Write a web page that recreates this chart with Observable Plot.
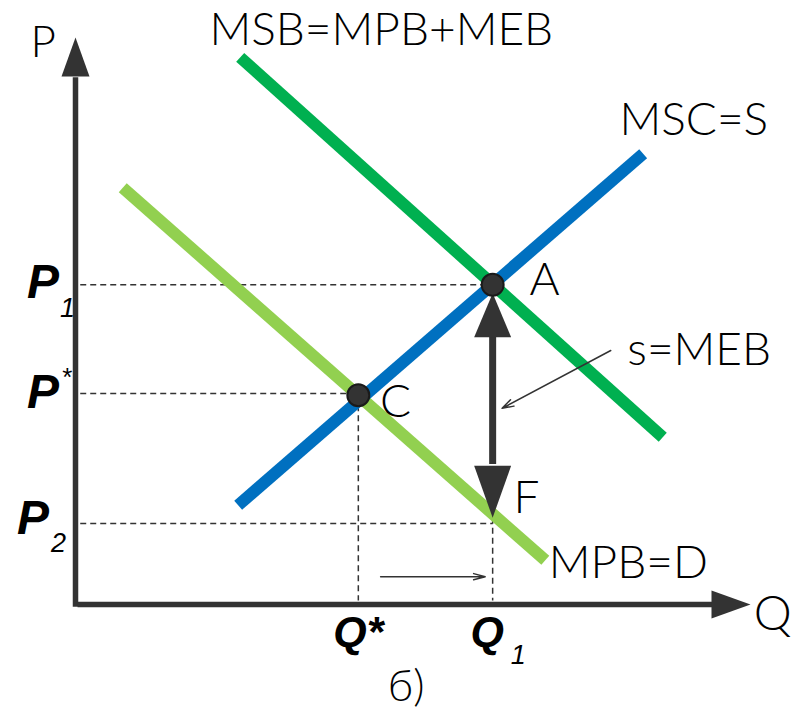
<!DOCTYPE html>
<html>
<head>
<meta charset="utf-8">
<script src="https://cdn.jsdelivr.net/npm/d3@7"></script>
<script src="https://cdn.jsdelivr.net/npm/@observablehq/plot@0.6"></script>
<style>
  html, body { margin: 0; padding: 0; background: #fff; }
</style>
</head>
<body>
<div id="chart"></div>
<script>
// ---- data (abstract units: Q and P from 0 to 100) ----
const msbLine = [[24.4, 96.5], [87.0, 29.5]];   // MSB = MPB + MEB
const mscLine = [[24.1, 17.5], [84.1, 79.5]];   // MSC = S
const mpbLine = [[7.0, 73.5], [69.6, 7.8]];     // MPB = D

const pointNames = ["A", "C"];
const pointQ = [61.8, 41.9];
const pointP = [56.4, 36.9];

const priceLevels = [56.4, 37.2, 14.3];          // P1, P*, P2
const priceEnds = [61.8, 41.9, 61.8];             // where the dashed line stops
const quantityLevels = [41.9, 61.8];              // Q*, Q1
const quantityTops = [36.9, 15.3];                // where the dashed line starts

const meb = { q: 61.8, top: 54.9, bottom: 15.3 }; // vertical gap A-F

const curveLabels = ["MSB=MPB+MEB", "MSC=S", "MPB=D", "s=MEB"];
const curveLabelQ = [45.3, 91.6, 81.9, 92.4];
const curveLabelP = [101.2, 85.4, 7.2, 44.8];

const green = "#00b050", blue = "#0070c0", lightGreen = "#92d050", ink = "#333333";

// ---- helpers ----
const line2 = (pts) => pts.map(([q, p]) => ({ q, p }));
function head(dir, w, L) {
  return {
    draw(ctx) {
      ctx.moveTo(0, 0);
      if (dir === "up") { ctx.lineTo(-w / 2, L); ctx.lineTo(w / 2, L); }
      else if (dir === "down") { ctx.lineTo(-w / 2, -L); ctx.lineTo(w / 2, -L); }
      else { ctx.lineTo(-L, -w / 2); ctx.lineTo(-L, w / 2); }
      ctx.closePath();
    }
  };
}

const geo = "Lato, 'Open Sans', sans-serif";
const ari = "'Liberation Sans', Arial, sans-serif";

const chart = Plot.plot({
  width: 794,
  height: 717,
  marginLeft: 75,
  marginRight: 44,
  marginTop: 37,
  marginBottom: 113,
  x: { domain: [0, 100], axis: null },
  y: { domain: [0, 100], axis: null },
  style: { background: "#fff", overflow: "visible" },
  marks: [
    // dashed guide lines
    Plot.link(priceLevels, { x1: 0.7, x2: (d, i) => priceEnds[i], y1: d => d, y2: d => d,
      stroke: ink, strokeWidth: 1.5, strokeDasharray: "6,4" }),
    Plot.link(quantityLevels, { x1: d => d, x2: d => d, y1: (d, i) => quantityTops[i], y2: 0.7,
      stroke: ink, strokeWidth: 1.5, strokeDasharray: "6,4" }),
    // curves
    Plot.line(line2(mpbLine), { x: "q", y: "p", stroke: lightGreen, strokeWidth: 12, strokeLinecap: "butt" }),
    Plot.line(line2(msbLine), { x: "q", y: "p", stroke: green, strokeWidth: 12, strokeLinecap: "butt" }),
    Plot.line(line2(mscLine), { x: "q", y: "p", stroke: blue, strokeWidth: 12, strokeLinecap: "butt" }),
    // axes
    Plot.line([{ q: 0, p: -0.4 }, { q: 0, p: 93.0 }], { x: "q", y: "p", stroke: ink, strokeWidth: 5.5, strokeLinecap: "butt" }),
    Plot.line([{ q: 0.3, p: 0 }, { q: 94.5, p: 0 }], { x: "q", y: "p", stroke: ink, strokeWidth: 5.5, strokeLinecap: "butt" }),
    Plot.dot([{ q: 0, p: 100 }], { x: "q", y: "p", r: 1, symbol: head("up", 28, 39), fill: ink, stroke: "none" }),
    Plot.dot([{ q: 100, p: 0 }], { x: "q", y: "p", r: 1, symbol: head("right", 28, 39), fill: ink, stroke: "none" }),
    // MEB double arrow
    Plot.line([{ q: meb.q, p: 47.5 }, { q: meb.q, p: 24.8 }], { x: "q", y: "p", stroke: ink, strokeWidth: 7, strokeLinecap: "butt" }),
    Plot.dot([{ q: meb.q, p: meb.top }], { x: "q", y: "p", r: 1, symbol: head("up", 37, 44), fill: ink, stroke: "none" }),
    Plot.dot([{ q: meb.q, p: meb.bottom }], { x: "q", y: "p", r: 1, symbol: head("down", 37, 52), fill: ink, stroke: "none" }),
    // thin pointer arrows
    Plot.arrow([{ x1: 79.3, y1: 44.8, x2: 63.2, y2: 34.6 }], { x1: "x1", y1: "y1", x2: "x2", y2: "y2",
      stroke: ink, strokeWidth: 1.5, headLength: 12, headAngle: 35 }),
    Plot.arrow([{ x1: 45.2, y1: 4.9, x2: 60.7, y2: 4.9 }], { x1: "x1", y1: "y1", x2: "x2", y2: "y2",
      stroke: ink, strokeWidth: 1.5, headLength: 12, headAngle: 30 }),
    // points
    Plot.dot(pointNames, { x: (d, i) => pointQ[i], y: (d, i) => pointP[i], r: 11, fill: ink, stroke: "#1a1a1a", strokeWidth: 2 }),
    // geometric labels
    Plot.text(curveLabels, { x: (d, i) => curveLabelQ[i], y: (d, i) => curveLabelP[i], text: d => d,
      fontFamily: geo, fontSize: 46, fontWeight: 300, fill: "#000", lineAnchor: "middle", textAnchor: "middle" }),
    Plot.text(pointNames, { x: (d, i) => [69.5, 47.4][i], y: (d, i) => [57.1, 35.6][i], text: d => d,
      fontFamily: geo, fontSize: 46, fontWeight: 300, fill: "#000", lineAnchor: "middle", textAnchor: "middle" }),
    Plot.text(["F"], { x: 66.8, y: 18.7, text: d => d,
      fontFamily: geo, fontSize: 46, fontWeight: 300, fill: "#000", lineAnchor: "middle", textAnchor: "middle" }),
    Plot.text(["P"], { x: -4.8, y: 99.1, text: d => d,
      fontFamily: geo, fontSize: 44, fontWeight: 300, fill: "#000", lineAnchor: "middle", textAnchor: "middle" }),
    Plot.text(["Q"], { x: 103.3, y: -1.8, text: d => d,
      fontFamily: geo, fontSize: 48, fontWeight: 300, fill: "#000", lineAnchor: "middle", textAnchor: "middle" }),
    Plot.text(["б)"], { x: 49, y: -14.5, text: d => d,
      fontFamily: geo, fontSize: 44, fontWeight: 300, fill: "#000", lineAnchor: "middle", textAnchor: "middle" }),
    // price / quantity tick labels
    Plot.text(["P", "P", "P"], { x: [-4.8, -4.8, -6.3], y: [56.8, 37.4, 15.2], text: d => d,
      fontFamily: ari, fontSize: 48, fontWeight: "bold", fontStyle: "italic", fill: "#000", lineAnchor: "middle", textAnchor: "middle" }),
    Plot.text(["1", "2"], { x: [-1.2, -2.5], y: [52.2, 10.8], text: d => d,
      fontFamily: ari, fontSize: 27, fontStyle: "italic", fill: "#000", lineAnchor: "middle", textAnchor: "middle" }),
    Plot.text(["*"], { x: [-1.2], y: [40.0], text: d => d,
      fontFamily: ari, fontSize: 26, fill: "#000", lineAnchor: "middle", textAnchor: "middle" }),
    Plot.text(["Q*"], { x: 41.9, y: -4.9, text: d => d,
      fontFamily: ari, fontSize: 43, fontWeight: "bold", fontStyle: "italic", fill: "#000", lineAnchor: "middle", textAnchor: "middle" }),
    Plot.text(["Q"], { x: 61.0, y: -4.9, text: d => d,
      fontFamily: ari, fontSize: 43, fontWeight: "bold", fontStyle: "italic", fill: "#000", lineAnchor: "middle", textAnchor: "middle" }),
    Plot.text(["1"], { x: 65.6, y: -8.9, text: d => d,
      fontFamily: ari, fontSize: 27, fontStyle: "italic", fill: "#000", lineAnchor: "middle", textAnchor: "middle" })
  ]
});
document.getElementById("chart").appendChild(chart);
</script>
</body>
</html>
